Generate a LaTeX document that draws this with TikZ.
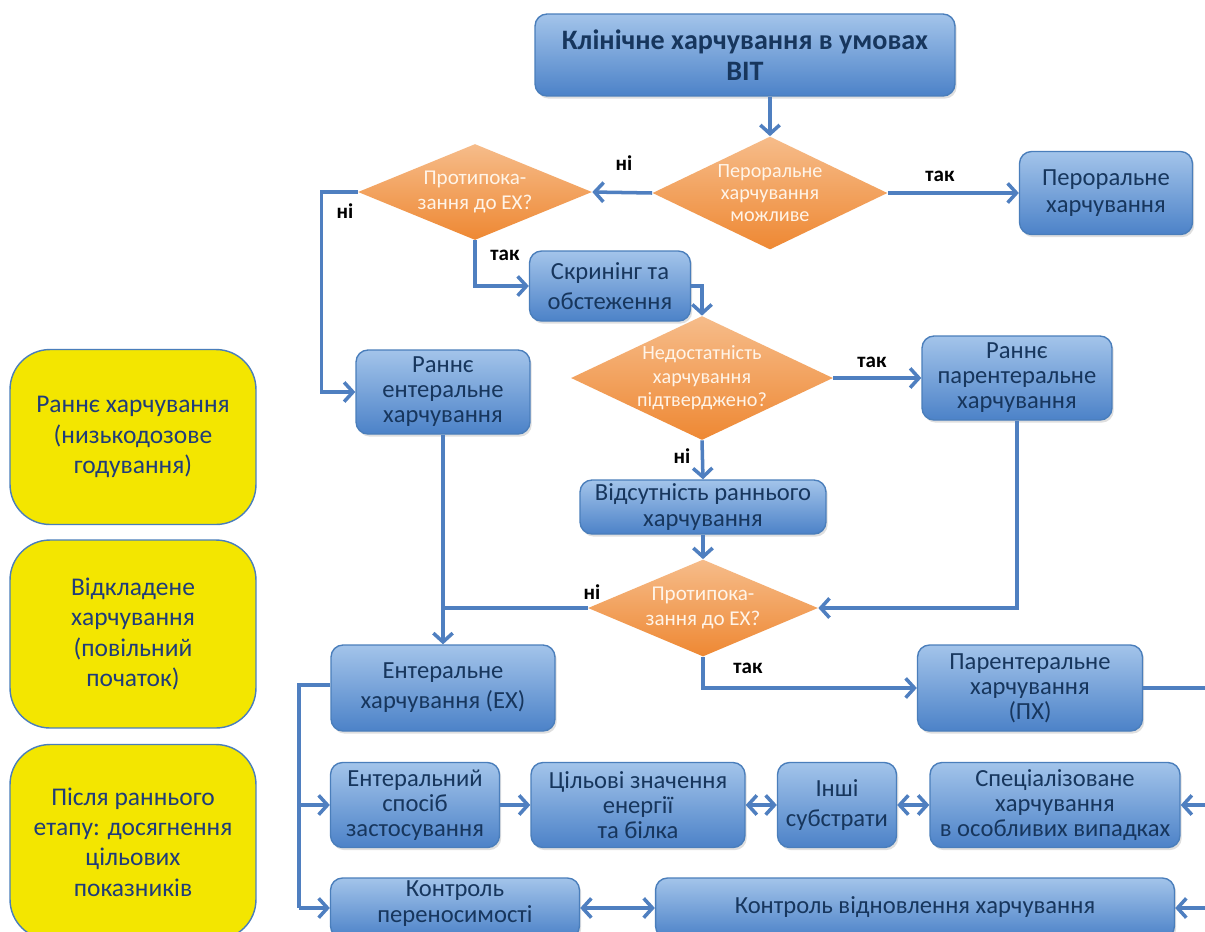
\documentclass[tikz,border=0pt]{standalone}
\usepackage{fontspec}
\setmainfont{Carlito}
\usetikzlibrary{shapes.geometric,arrows.meta,shadows}
\definecolor{btop}{HTML}{A3C4EA}
\definecolor{bbot}{HTML}{4C82C8}
\definecolor{bdr}{HTML}{4A7EBB}
\definecolor{btxt}{HTML}{17365D}
\definecolor{dtop}{HTML}{F6BC8A}
\definecolor{dbot}{HTML}{EE8833}
\definecolor{dtxt}{HTML}{FFF4E8}
\definecolor{yfill}{HTML}{F3E600}
\definecolor{ytxt}{HTML}{1F3C7A}
\definecolor{arrc}{HTML}{4F7FC0}
\tikzset{
  bbox/.style={rounded corners=0.24cm, draw=bdr, line width=0.8pt, top color=btop, bottom color=bbot,
    text=btxt, align=center, inner sep=1pt, font=\fontsize{14}{17}\selectfont,
    drop shadow={shadow xshift=1pt, shadow yshift=-1.5pt, opacity=0.25}},
  three/.style={font=\fontsize{14}{14.2}\selectfont},
  ybox/.style={rounded corners=0.8cm, draw=bdr, line width=0.8pt, fill=yfill, text=ytxt,
    align=center, minimum width=4.92cm, font=\fontsize{14.5}{17.2}\selectfont},
  dia/.style={diamond, inner sep=0pt, top color=dtop, bottom color=dbot, draw=none},
  dtext/.style={text=dtxt, align=center, font=\fontsize{11.5}{12.5}\selectfont},
  lab/.style={font=\fontsize{12}{14}\selectfont\bfseries, text=black},
  conn/.style={draw=arrc, line width=2pt},
  arr/.style={conn, -{Straight Barb[length=5pt,width=11pt,line width=2pt]}},
  darr/.style={conn, {Straight Barb[length=5pt,width=11pt,line width=2pt]}-{Straight Barb[length=5pt,width=11pt,line width=2pt]}},
}
\begin{document}
\begin{tikzpicture}[x=0.02cm, y=-0.02cm]
\useasboundingbox (0,0) rectangle (1205,931);
\clip (0,0) rectangle (1205,931);
\fill[white] (0,0) rectangle (1205,931);

% yellow stage boxes
\node[ybox, minimum height=3.5cm] (y1) at (133,437) {Раннє харчування\\(низькодозове\\годування)};
\node[ybox, minimum height=3.76cm] (y2) at (133,634) {Відкладене\\харчування\\(повільний\\початок)};
\node[ybox, minimum height=3.9cm] (y3) at (133,842) {Після раннього\\етапу: досягнення\\цільових\\показників};

% blue boxes
\node[bbox, minimum width=8.4cm, minimum height=1.64cm, font=\fontsize{16}{17.5}\selectfont\bfseries] (top) at (745,55) {Клінічне харчування в умовах\\ВІТ};
\node[bbox, minimum width=3.46cm, minimum height=1.66cm, font=\fontsize{14}{15.5}\selectfont] (oral) at (1106,193) {Пероральне\\харчування};
\node[bbox, minimum width=3.22cm, minimum height=1.4cm] (scr) at (610,286) {Скринінг та\\обстеження};
\node[bbox, three, minimum width=3.48cm, minimum height=1.68cm] (een) at (443,392) {Раннє\\ентеральне\\харчування};
\node[bbox, three, minimum width=3.8cm, minimum height=1.68cm] (epn) at (1017,378) {Раннє\\парентеральне\\харчування};
\node[bbox, minimum width=4.92cm, minimum height=1.08cm, font=\fontsize{14}{15}\selectfont] (abs) at (703,507) {Відсутність раннього\\харчування};
\node[bbox, minimum width=4.48cm, minimum height=1.72cm] (en) at (443,688) {Ентеральне\\харчування (ЕХ)};
\node[bbox, three, minimum width=4.5cm, minimum height=1.72cm] (pn) at (1030,688) {Парентеральне\\харчування\\(ПХ)};
\node[bbox, three, minimum width=3.38cm, minimum height=1.7cm] (route) at (415,805) {Ентеральний\\спосіб\\застосування};
\node[bbox, three, minimum width=4.28cm, minimum height=1.7cm] (target) at (638,805) {Цільові значення\\енергії\\та білка};
\node[bbox, minimum width=2.38cm, minimum height=1.7cm] (other) at (837,805) {Інші\\субстрати};
\node[bbox, three, minimum width=5.0cm, minimum height=1.7cm] (spec) at (1055,805) {Спеціалізоване\\харчування\\в особливих випадках};
\node[bbox, minimum width=4.98cm, minimum height=1.2cm, font=\fontsize{14}{15}\selectfont, text depth=7pt] (tol) at (455,908) {Контроль\\переносимості};
\node[bbox, minimum width=10.38cm, minimum height=1.2cm, text depth=3pt] (rec) at (915,908) {Контроль відновлення харчування};

% decision diamonds
\node[dia, minimum width=4.7cm, minimum height=2.26cm] (d1) at (770,193) {};
\node[dtext] at (d1) {Пероральне\\харчування\\можливе};
\node[dia, minimum width=4.68cm, minimum height=1.92cm] (d2) at (475,192) {};
\node[dtext, font=\fontsize{12}{14}\selectfont] at (d2) {Протипока-\\зання до ЕХ?};
\node[dia, minimum width=5.24cm, minimum height=2.48cm] (d3) at (702,378) {};
\node[dtext, font=\fontsize{11.5}{13.3}\selectfont] at (d3) {Недостатність\\харчування\\підтверджено?};
\node[dia, minimum width=4.6cm, minimum height=1.94cm] (d4) at (703,608) {};
\node[dtext, font=\fontsize{12}{14}\selectfont] at (d4) {Протипока-\\зання до ЕХ?};

% off-canvas and bend coordinates
\coordinate (rx) at (1218,0);
\coordinate (lx) at (299,0);

% connectors
\draw[arr] (top.south -| d1.north) -- (d1.north);
\draw[arr] (d1.east) -- (d1.east -| oral.west);
\draw[arr] (d1.west) -- (d2.east);
\draw[arr] (d2.west) -- ++(-36,0) |- (een.west);
\draw[arr] (d2.south) |- (scr.west);
\draw[arr] (scr.east) -| (d3.north);
\draw[arr] (d3.east) -- (d3.east -| epn.west);
\draw[arr] (d3.south) -- (abs.north);
\draw[arr] (abs.south) -- (d4.north);
\draw[arr] (epn.south) |- (d4.east);
\draw[arr] (een.south) -- (en.north);
\draw[conn] (d4.west) -- (d4.west -| en.north);
\draw[arr] (d4.south) |- (pn.west);
\draw[conn] (pn.east) -- (pn.east -| rx) -- (rx |- rec.east);
\draw[arr] (rx |- spec.east) -- (spec.east);
\draw[arr] (rx |- rec.east) -- (rec.east);
\draw[conn] ([yshift=0.06cm]en.west) -| (lx |- tol.west);
\draw[arr] (lx |- tol.west) -- (tol.west);
\draw[arr] (lx |- route.west) -- (route.west);
\draw[arr] (route.east) -- (target.west);
\draw[darr] (target.east) -- (other.west);
\draw[darr] (other.east) -- (spec.west);
\draw[darr] (tol.east) -- (rec.west);

% branch labels
\node[lab] (l1) at (624,163) {ні};
\node[lab] (l2) at (940,176) {так};
\node[lab] (l3) at (345,211) {ні};
\node[lab] (l4) at (505,255) {так};
\node[lab] (l5) at (872,362) {так};
\node[lab] (l6) at (682,456) {ні};
\node[lab] (l7) at (592,592) {ні};
\node[lab] (l8) at (748,668) {так};
\end{tikzpicture}
\end{document}
